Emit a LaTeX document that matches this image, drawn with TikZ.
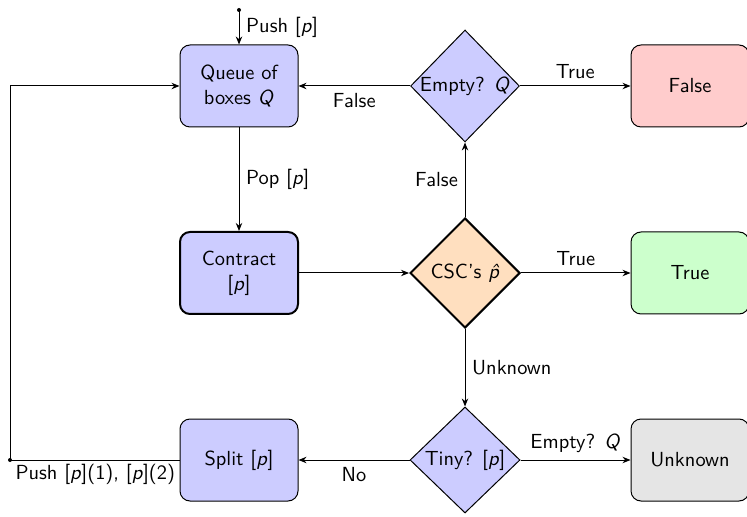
\documentclass[tikz,border=0pt]{standalone}
\usetikzlibrary{shapes.geometric,arrows.meta}
\renewcommand{\familydefault}{\sfdefault}
\newcommand{\sv}[1]{\textsl{#1}}

\tikzset{every picture/.style={line width=0.5pt}}
\tikzset{
  every node/.style={font=\fontsize{10.2}{12.4}\selectfont},
  box/.style={draw, rounded corners=5pt, minimum width=59pt, minimum height=41pt, align=center, inner sep=2pt},
  test/.style={draw, diamond, aspect=1, minimum width=53pt, minimum height=56pt, inner sep=0pt},
  flow/.style={-{Stealth[length=4pt,width=3.2pt]}},
  thickbox/.style={line width=1pt},
}

\begin{document}
\begin{tikzpicture}[x=0.5pt,y=0.5pt,yscale=-1,xscale=1]
\useasboundingbox (0,0) rectangle (747,517);

% Boxes
\node [box, fill=blue!20] (queue) at (239,86) {Queue of\\boxes \sv{Q}};
\node [box, thickbox, fill=blue!20] (contract) at (239,273) {Contract\\{}[\sv{p}]};
\node [box, fill=blue!20] (split) at (239,460) {Split [\sv{p}]};
\node [box, fill=red!20] (false) at (690,86) {False};
\node [box, fill=green!20] (true) at (690,273) {True};
\node [box, fill=gray!20] (unknown) at (690,460) {Unknown};

% Tests
\node [test, fill=blue!20] (empty) at (465,86) {Empty? \sv{Q}};
\node [test, thickbox, fill=orange!25, minimum width=55pt, minimum height=55pt] (csc) at (465,273) {CSC's \sv{\^{p}}};
\node [test, fill=blue!20, minimum width=55pt, minimum height=53pt] (tiny) at (465,460) {Tiny? [\sv{p}]};

% Free ends
\coordinate (start) at (239,10);
\coordinate (back) at (10,460);
\coordinate (corner) at (10,86);
\fill (start) circle (2);
\fill (back) circle (2);

% Connectors
\draw [flow] (start) -- node [right] {Push [\sv{p}]} (queue);
\draw [flow] (queue) -- node [right] {Pop [\sv{p}]} (contract);
\draw [flow] (contract) -- (csc);
\draw [flow] (csc) -- node [above] {True} (true);
\draw [flow] (csc) -- node [left] {False} (empty);
\draw [flow] (csc) -- node [right] {Unknown} (tiny);
\draw [flow] (empty) -- node [below] {False} (queue);
\draw [flow] (empty) -- node [above] {True} (false);
\draw [flow] (tiny) -- node [below] {No} (split);
\draw [flow] (tiny) -- node [above] {Empty? \sv{Q}} (unknown);
\draw (split) -- node [pos=0, below left, inner sep=2pt] {Push [\sv{p}](1), [\sv{p}](2)} (back);
\draw [flow] (back) -- (corner) -- (queue);

\end{tikzpicture}
\end{document}
